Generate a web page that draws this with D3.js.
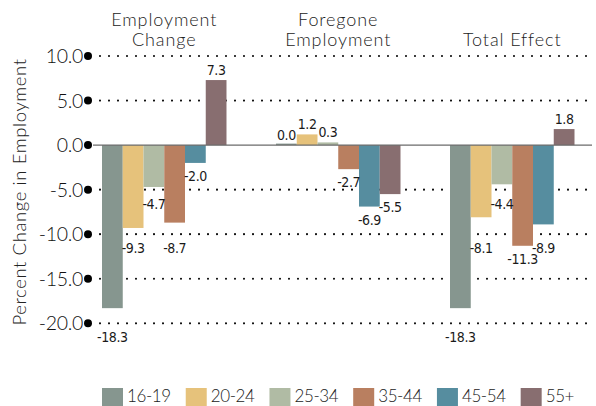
<!DOCTYPE html>
<html>
<head>
<meta charset="utf-8">
<script src="https://cdn.jsdelivr.net/npm/d3@7"></script>
<style>
  html, body { margin: 0; padding: 0; background: #fff; }
  svg { display: block; }
</style>
</head>
<body>
<svg id="chart" width="596" height="406"></svg>
<script>
// ---- data ----
const groups = ["Employment Change", "Foregone Employment", "Total Effect"];
const groupTitleLines = [["Employment", "Change"], ["Foregone", "Employment"], ["Total Effect"]];
const ageGroups = ["16-19", "20-24", "25-34", "35-44", "45-54", "55+"];
const employmentChange = [-18.3, -9.3, -4.7, -8.7, -2.0, 7.3];
const foregoneEmployment = [0.0, 1.2, 0.3, -2.7, -6.9, -5.5];
const totalEffect = [-18.3, -8.1, -4.4, -11.3, -8.9, 1.8];
const yTicks = [10, 5, 0, -5, -10, -15, -20];
const colors = ["#86968f", "#e6c27b", "#b0bba4", "#b97f60", "#568d9f", "#886e70"];
const yTitle = "Percent Change in Employment";

const seriesByGroup = [employmentChange, foregoneEmployment, totalEffect];

// ---- layout ----
const svg = d3.select("#chart");
const y = d3.scaleLinear().domain([-20, 10]).range([323.3, 56]);
const x0 = d3.scaleBand().domain(groups).range([84.6, 591.9]).paddingInner(0.2845).paddingOuter(0.1);
const x1 = d3.scaleBand().domain(ageGroups).range([0, x0.bandwidth()]).padding(0);

const titleFont = "Lato, 'Open Sans', sans-serif";
const labelFont = "'Liberation Sans Narrow', 'Arial Narrow', 'DejaVu Sans Condensed', sans-serif";
const fmt = v => d3.format(".1f")(v).replace("−", "-");
const gridTicks = yTicks.filter(t => t !== 0);

// grid (dotted) lines
const gridLeft = 100, gridRight = 592;
svg.append("g").selectAll("line")
  .data(gridTicks)
  .join("line")
  .attr("x1", gridLeft).attr("x2", gridRight)
  .attr("y1", d => y(d)).attr("y2", d => y(d))
  .attr("stroke", "#111").attr("stroke-width", 2.2)
  .attr("stroke-linecap", "round").attr("stroke-dasharray", "0 9");

// tick dots + labels
const tickG = svg.append("g");
tickG.selectAll("circle").data(yTicks).join("circle")
  .attr("cx", 88).attr("cy", d => y(d)).attr("r", 4).attr("fill", "#000");
tickG.selectAll("text").data(yTicks).join("text")
  .attr("x", 83).attr("y", d => y(d)).attr("dy", "0.36em")
  .attr("text-anchor", "end")
  .attr("font-family", titleFont).attr("font-weight", 300).attr("font-size", 19.5)
  .attr("letter-spacing", -0.3)
  .attr("fill", "#111")
  .text(d => fmt(d));

// y title
svg.append("text")
  .attr("transform", `translate(26,192) rotate(-90)`)
  .attr("text-anchor", "middle")
  .attr("font-family", titleFont).attr("font-weight", 300).attr("font-size", 18.5)
  .attr("letter-spacing", 0.6)
  .attr("fill", "#222")
  .text(yTitle);

// label placement: just below the bar end; if a grid line lies just below the bar end, drop the label below that line
function negLabelCenter(v) {
  const end = y(v);
  const hit = gridTicks.map(t => y(t)).find(gy => gy >= end && gy < end + 20);
  return hit !== undefined ? hit + 14 : end + 13;
}

// bars
const gGroups = svg.append("g").selectAll("g")
  .data(groups).join("g")
  .attr("transform", d => `translate(${x0(d)},0)`);

gGroups.each(function(gName, gi) {
  const vals = seriesByGroup[gi];
  const items = ageGroups.map((a, i) => ({ age: a, v: vals[i], c: colors[i] }));
  const g = d3.select(this);
  g.selectAll("rect").data(items).join("rect")
    .attr("x", d => x1(d.age))
    .attr("width", x1.bandwidth())
    .attr("y", d => d.v >= 0 ? Math.min(y(d.v), y(0) - 1.5) : y(0))
    .attr("height", d => Math.max(Math.abs(y(d.v) - y(0)), 1.5))
    .attr("fill", d => d.c);
  g.selectAll("text.val").data(items).join("text")
    .attr("class", "val")
    .attr("x", d => x1(d.age) + x1.bandwidth() / 2)
    .attr("y", d => d.v >= 0 ? y(d.v) - 10 : negLabelCenter(d.v))
    .attr("dy", "0.36em")
    .attr("text-anchor", "middle")
    .attr("font-family", labelFont).attr("font-size", 14)
    .attr("letter-spacing", -0.4)
    .attr("fill", "#1a1a1a")
    .text(d => fmt(d.v));
  // title
  const lines = groupTitleLines[gi];
  const cx = x0.bandwidth() / 2;
  g.selectAll("text.title").data(lines).join("text")
    .attr("class", "title")
    .attr("x", cx)
    .attr("y", (d, i) => 46 - (lines.length - 1 - i) * 20)
    .attr("text-anchor", "middle")
    .attr("font-family", titleFont).attr("font-weight", 300).attr("font-size", 18)
    .attr("letter-spacing", 0.9)
    .attr("fill", "#222")
    .text(d => d);
});

// zero line
svg.append("line")
  .attr("x1", 93).attr("x2", gridRight)
  .attr("y1", y(0)).attr("y2", y(0))
  .attr("stroke", "#6b6b6b").attr("stroke-width", 1.2);

// legend
const legend = svg.append("g");
let lx = 102;
ageGroups.forEach((a, i) => {
  legend.append("rect").attr("x", lx).attr("y", 388).attr("width", 21).attr("height", 18).attr("fill", colors[i]);
  const t = legend.append("text").attr("x", lx + 25).attr("y", 402)
    .attr("font-family", titleFont).attr("font-weight", 300).attr("font-size", 17)
    .attr("letter-spacing", -0.4)
    .attr("fill", "#222").text(a);
  lx += 25 + t.node().getComputedTextLength() + 15;
});
</script>
</body>
</html>
